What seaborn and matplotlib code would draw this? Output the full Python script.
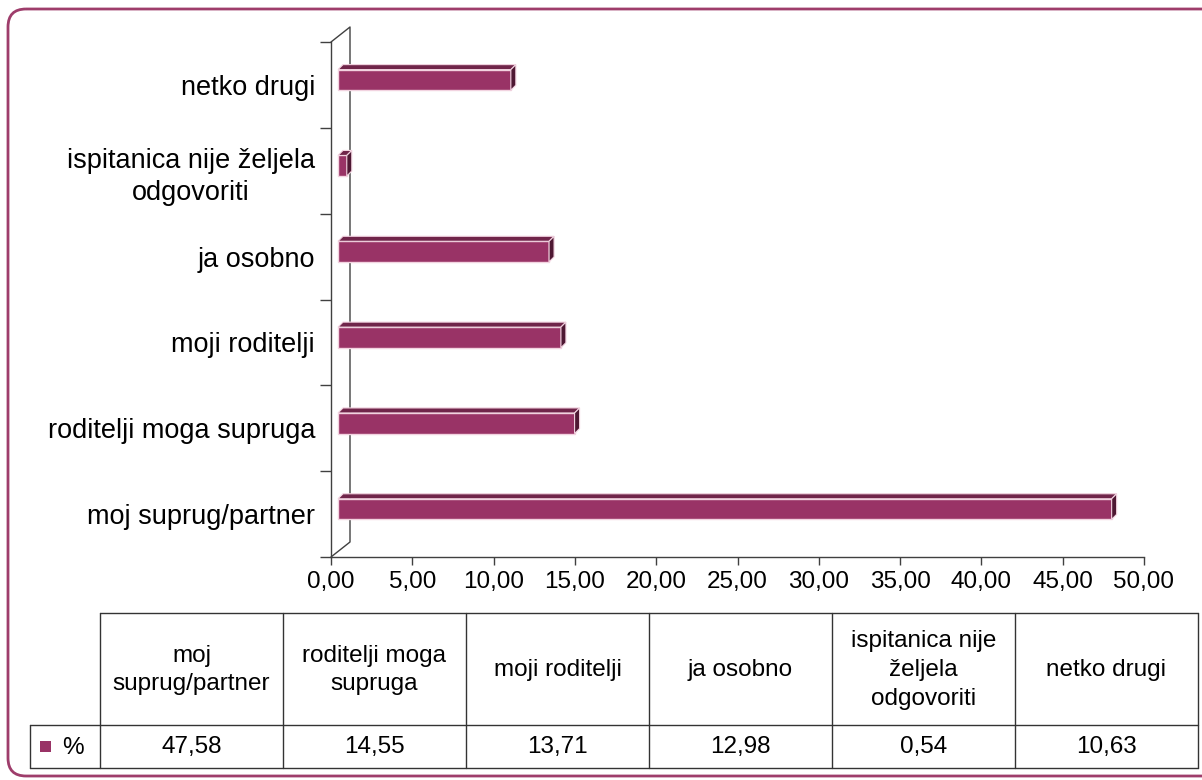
import numpy as np
import pandas as pd
import matplotlib
matplotlib.use("Agg")
import matplotlib.pyplot as plt
import seaborn as sns
import matplotlib.transforms as mtransforms
from matplotlib.patches import Polygon, Rectangle, FancyBboxPatch
from matplotlib.lines import Line2D
from matplotlib.ticker import FixedLocator, NullFormatter, FuncFormatter

# ---------------- data ----------------
categories = ["moj suprug/partner", "roditelji moga supruga", "moji roditelji",
              "ja osobno", "ispitanica nije željela odgovoriti", "netko drugi"]
values = [47.58, 14.55, 13.71, 12.98, 0.54, 10.63]
axis_labels = ["moj suprug/partner", "roditelji moga supruga", "moji roditelji",
               "ja osobno", "ispitanica nije željela\nodgovoriti", "netko drugi"]
table_headers = ["moj\nsuprug/partner", "roditelji moga\nsupruga", "moji roditelji",
                 "ja osobno", "ispitanica nije\nželjela\nodgovoriti", "netko drugi"]
series_name = "%"
x_ticks = [0, 5, 10, 15, 20, 25, 30, 35, 40, 45, 50]

# ---------------- style ----------------
sns.set_style("white")
plt.rcParams["font.family"] = ["Liberation Sans", "DejaVu Sans"]

BAR = "#993366"
TOP = "#70254A"
SIDE = "#4E1833"
EDGE = "#F2D3E0"
AXC = "#404040"

W, H = 1202, 780
fig = plt.figure(figsize=(W / 100, H / 100), dpi=100)

# background (pixel coordinates) for frame and table
bg = fig.add_axes([0, 0, 1, 1])
bg.set_xlim(0, W)
bg.set_ylim(H, 0)
bg.axis("off")
frame = FancyBboxPatch((8, 9), 1240, 767, boxstyle="round,pad=0,rounding_size=18",
                       fill=False, ec="#9E3D6B", lw=2, clip_on=False)
bg.add_patch(frame)

# ---------------- main axes ----------------
ax = fig.add_axes([331 / W, 1 - 557 / H, 813 / W, 515 / H])
ax.patch.set_alpha(0)
order = categories[::-1]
df = pd.DataFrame({"cat": categories, "val": values})
sns.barplot(data=df, x="val", y="cat", order=order, orient="h", color=BAR,
            saturation=1, width=0.24, edgecolor=EDGE, linewidth=1, ax=ax, zorder=3)
ax.set_xlim(0, 50)
ax.set_ylim(5.5, -0.5)
ax.set_xlabel("")
ax.set_ylabel("")

px_x = 813 / 50
px_y = 515 / 6
off = mtransforms.offset_copy(ax.transData, fig=fig, x=7, y=5, units="dots")
ddx = 5 / px_x
ddy = 5 / px_y
for p in list(ax.patches):
    p.set_transform(off)
    x0 = p.get_x()
    x1 = x0 + p.get_width()
    yt = p.get_y()
    yb = yt + p.get_height()
    top = Polygon([(x0, yt), (x0 + ddx, yt - ddy), (x1 + ddx, yt - ddy), (x1, yt)],
                  closed=True, fc=TOP, ec=EDGE, lw=0.8, transform=off, zorder=3, clip_on=False)
    side = Polygon([(x1, yt), (x1 + ddx, yt - ddy), (x1 + ddx, yb - ddy), (x1, yb)],
                   closed=True, fc=SIDE, ec=EDGE, lw=0.8, transform=off, zorder=3, clip_on=False)
    ax.add_patch(top)
    ax.add_patch(side)

# 3D back wall outline
wx = 19 / px_x
wy = 15 / px_y
ax.add_line(Line2D([0, wx, wx, 0], [5.5, 5.5 - wy, -0.5 - wy, -0.5], color=AXC,
                   lw=1, clip_on=False, zorder=1))

# spines
for s in ["top", "right"]:
    ax.spines[s].set_visible(False)
for s in ["left", "bottom"]:
    ax.spines[s].set_color(AXC)
    ax.spines[s].set_linewidth(1)

# y ticks: boundaries as major ticks, labels at centers on minor ticks
ax.yaxis.set_major_locator(FixedLocator([-0.5 + i for i in range(7)]))
ax.yaxis.set_major_formatter(NullFormatter())
ax.set_yticks(range(6), minor=True)
ax.set_yticklabels(axis_labels[::-1], minor=True, multialignment="center", linespacing=1.3)
ax.tick_params(axis="y", which="major", length=11 * 0.72, width=1, color=AXC, direction="out", left=True)
ax.tick_params(axis="y", which="minor", length=0, pad=11.5, labelsize=19.5, labelcolor="black")

# x ticks
ax.xaxis.set_major_locator(FixedLocator(x_ticks))
ax.xaxis.set_major_formatter(FuncFormatter(lambda v, pos: f"{v:.2f}".replace(".", ",")))
ax.tick_params(axis="x", length=8 * 0.72, width=1, color=AXC, direction="out",
               pad=4, labelsize=17.5, labelcolor="black", bottom=True)
ax.grid(False)

# ---------------- data table ----------------
LC = "#333333"
col_left, col_w = 100, 183
y0, y1, y2 = 613, 725, 768
leg_left = 30
ncol = len(categories)
right = col_left + col_w * ncol
bg.add_line(Line2D([col_left, right], [y0, y0], color=LC, lw=1))
bg.add_line(Line2D([leg_left, right], [y1, y1], color=LC, lw=1))
bg.add_line(Line2D([leg_left, right], [y2, y2], color=LC, lw=1))
bg.add_line(Line2D([leg_left, leg_left], [y1, y2], color=LC, lw=1))
for i in range(ncol + 1):
    xv = col_left + col_w * i
    bg.add_line(Line2D([xv, xv], [y0, y2], color=LC, lw=1))
for i, (hdr, v) in enumerate(zip(table_headers, values)):
    cx = col_left + col_w * (i + 0.5)
    bg.text(cx, (y0 + y1) / 2 + 1, hdr, ha="center", va="center", multialignment="center",
            fontsize=17.5, color="black", linespacing=1.4)
    bg.text(cx, (y1 + y2) / 2 + 1, f"{v:.2f}".replace(".", ","), ha="center", va="center",
            fontsize=17.5, color="black")
bg.add_patch(Rectangle((40, 741), 11, 11, fc=BAR, ec="none"))
bg.text(62, (y1 + y2) / 2 + 1, series_name, ha="left", va="center", fontsize=17.5, color="black")

fig.savefig("out.png", dpi=100)
